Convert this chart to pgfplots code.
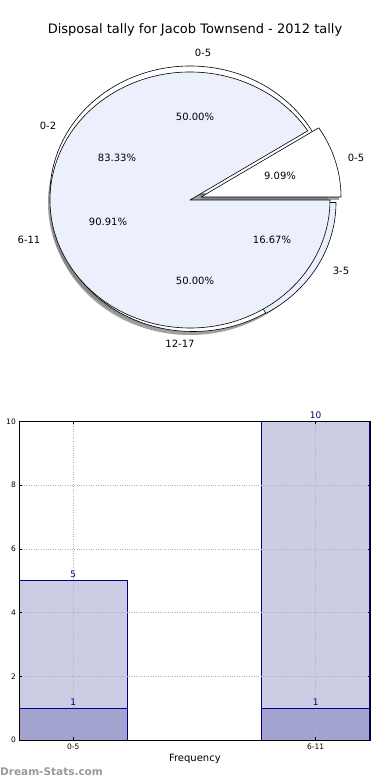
\documentclass[border=0pt]{standalone}
\usepackage{fontspec}
\setmainfont{DejaVu Sans}
\usepackage{pgfplots}
\pgfplotsset{compat=1.18}

\definecolor{pieblue}{HTML}{EBF0FC}
\definecolor{barlight}{HTML}{CCCCE5}
\definecolor{bardark}{HTML}{A3A3CF}
\definecolor{navyc}{HTML}{000080}

% wedge: cx, cy (axis cs), start angle, end angle, fill
\newcommand\pwedge[5]{%
  \filldraw[fill=#5, draw=black, line width=0.6pt, line join=round]
    (axis cs:#1,#2) -- ++(#3:140bp and 128bp)
    arc[start angle=#3, end angle=#4, x radius=140bp, y radius=128bp] -- cycle;}
\newcommand\pshadow[4]{%
  \fill[black!50, opacity=0.75]
    (axis cs:#1,#2) -- ++(#3:140bp and 128bp)
    arc[start angle=#3, end angle=#4, x radius=140bp, y radius=128bp] -- cycle;}

\begin{document}
\begin{tikzpicture}
\useasboundingbox (0,0) rectangle (390bp,780bp);

% ---------------- pie chart ----------------
% shares (percent): pie A: 0-5 9.09, 6-11 90.91; pie B: 0-2 83.33, 3-5 16.67; pie C: 0-5 50, 12-17 50
\pgfmathsetmacro\aA{3.6*9.09}
\pgfmathsetmacro\aB{3.6*83.33}
\pgfmathsetmacro\aC{3.6*50}
\begin{axis}[scale only axis, width=390bp, height=390bp, at={(0,390bp)}, anchor=south west,
  xmin=0, xmax=390, ymin=0, ymax=390, hide axis, clip=false]
  % shadow of the whole pie
  \pshadow{188}{187}{0}{360}
  % pie C, upper half exploded upward
  \pwedge{190}{196}{0}{\aC}{white}
  % pie C, lower half exploded downward
  \pshadow{190}{183}{\aC}{360}
  \pwedge{193}{186.5}{\aC}{360}{white}
  % pie B, 3-5 slice exploded
  \pwedge{196}{187.5}{\aB}{360}{pieblue}
  % pie A, 0-5 slice exploded (white)
  \pshadow{199}{190}{0}{\aA}
  \pwedge{201}{193}{0}{\aA}{white}
  % pie A, 6-11 slice
  \pwedge{190}{190}{\aA}{360}{pieblue}

  \begin{scope}[every node/.style={font=\fontsize{10bp}{12bp}\selectfont, inner sep=0pt}]
    \node at (axis cs:195,360) {\fontsize{13bp}{15bp}\selectfont Disposal tally for Jacob Townsend - 2012 tally};
    \node at (axis cs:203,337) {0-5};
    \node at (axis cs:48,264) {0-2};
    \node at (axis cs:356,232) {0-5};
    \node at (axis cs:29,150) {6-11};
    \node at (axis cs:341,119) {3-5};
    \node at (axis cs:180,46) {12-17};
    \node at (axis cs:195,273) {50.00\%};
    \node at (axis cs:117,232) {83.33\%};
    \node at (axis cs:280,214) {9.09\%};
    \node at (axis cs:108,168) {90.91\%};
    \node at (axis cs:272,150) {16.67\%};
    \node at (axis cs:195,109) {50.00\%};
  \end{scope}
\end{axis}

% ---------------- bar chart ----------------
\begin{axis}[scale only axis, width=351.2bp, height=318.5bp, at={(19.3bp,40bp)}, anchor=south west,
  xmin=-0.223, xmax=1.226, ymin=0, ymax=10,
  xtick={0,1}, xticklabels={0-5,6-11}, ytick={0,2,4,6,8,10},
  grid=major, grid style={dotted, black!30, line width=0.6pt},
  axis on top,
  tick align=inside, major tick length=3bp, tick style={black, line width=0.5pt},
  axis line style={black, line width=0.7pt},
  ticklabel style={font=\fontsize{7.5bp}{8bp}\selectfont},
  /pgf/number format/assume math mode=true,
  xlabel={Frequency}, xlabel style={font=\fontsize{10bp}{12bp}\selectfont, yshift=2bp},
  ylabel={Disposal Tally}, ylabel style={font=\fontsize{10bp}{12bp}\selectfont, at={(axis description cs:-0.046,0.5)}, anchor=south},
  nodes near coords,
  every node near coord/.append style={navyc, font=\fontsize{9bp}{10bp}\selectfont, anchor=south, inner sep=0pt, yshift=2.5bp},
  ]
  \addplot[ybar, bar width=0.446, bar shift=0pt, fill=barlight, draw=navyc, line width=0.6pt]
    coordinates {(0,5) (1,10)};
  \addplot[ybar, bar width=0.446, bar shift=0pt, fill=bardark, draw=navyc, line width=0.6pt]
    coordinates {(0,1) (1,1)};
\end{axis}

\node[anchor=south west, inner sep=0pt, text=black!40, font=\bfseries\fontsize{10.5bp}{12bp}\selectfont] at (0,4bp) {Dream-Stats.com};
\end{tikzpicture}
\end{document}
